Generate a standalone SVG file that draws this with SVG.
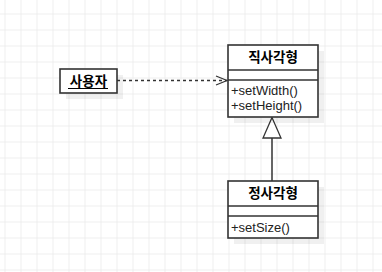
<svg xmlns="http://www.w3.org/2000/svg" width="382" height="272" viewBox="0 0 382 272">
<defs>
<pattern id="grid" x="4.5" y="13.5" width="16" height="16" patternUnits="userSpaceOnUse">
<path d="M0.5 0V16M0 0.5H16" fill="none" stroke="#eeeeee" stroke-width="1"/>
</pattern>
<marker id="open" markerWidth="14" markerHeight="12" refX="12" refY="6" orient="auto" markerUnits="userSpaceOnUse">
<path d="M1 1.5L12 6L1 10.5" fill="none" stroke="#333" stroke-width="1.2"/>
</marker>
</defs>
<style>
.box{fill:#fff;stroke:#333;stroke-width:1.6}
.shadow{fill:#000;opacity:0.06}
.div{stroke:#333;stroke-width:1.6}
.title{font-family:"Noto Sans CJK KR","Noto Sans",sans-serif;font-size:13.5px;font-weight:bold;fill:#000;text-anchor:middle}
.op{font-family:"Liberation Sans",Arial,sans-serif;font-size:13px;fill:#222}
.conn{fill:none;stroke:#333;stroke-width:1.5}
</style>
<rect width="382" height="272" fill="#fff"/>
<rect width="382" height="272" fill="url(#grid)"/>
<g id="connectors">
<line class="conn" x1="117" y1="80.5" x2="227" y2="80.5" stroke-dasharray="3,3" marker-end="url(#open)"/>
<line class="conn" x1="272" y1="138" x2="272" y2="181"/>
<path d="M272 117.5L263 138H281Z" fill="#fff" stroke="#333" stroke-width="1.3"/>
</g>
<g id="user">
<rect class="shadow" x="66" y="75" width="57" height="24"/>
<rect class="box" x="60" y="69" width="57" height="24"/>
<text class="title" x="88.5" y="86">사용자</text>
<line x1="68" y1="88.5" x2="108" y2="88.5" stroke="#000" stroke-width="1"/>
</g>
<g id="rectangle">
<rect class="shadow" x="234" y="51" width="90" height="72"/>
<rect class="box" x="228" y="45" width="90" height="72"/>
<text class="title" x="273" y="62">직사각형</text>
<line class="div" x1="228" y1="70" x2="318" y2="70"/>
<line class="div" x1="228" y1="80" x2="318" y2="80"/>
<text class="op" x="231" y="95">+setWidth()</text>
<text class="op" x="231" y="110">+setHeight()</text>
</g>
<g id="square">
<rect class="shadow" x="234" y="187" width="90" height="57"/>
<rect class="box" x="228" y="181" width="90" height="57"/>
<text class="title" x="273" y="198">정사각형</text>
<line class="div" x1="228" y1="206" x2="318" y2="206"/>
<line class="div" x1="228" y1="216" x2="318" y2="216"/>
<text class="op" x="231" y="231.5">+setSize()</text>
</g>
</svg>
